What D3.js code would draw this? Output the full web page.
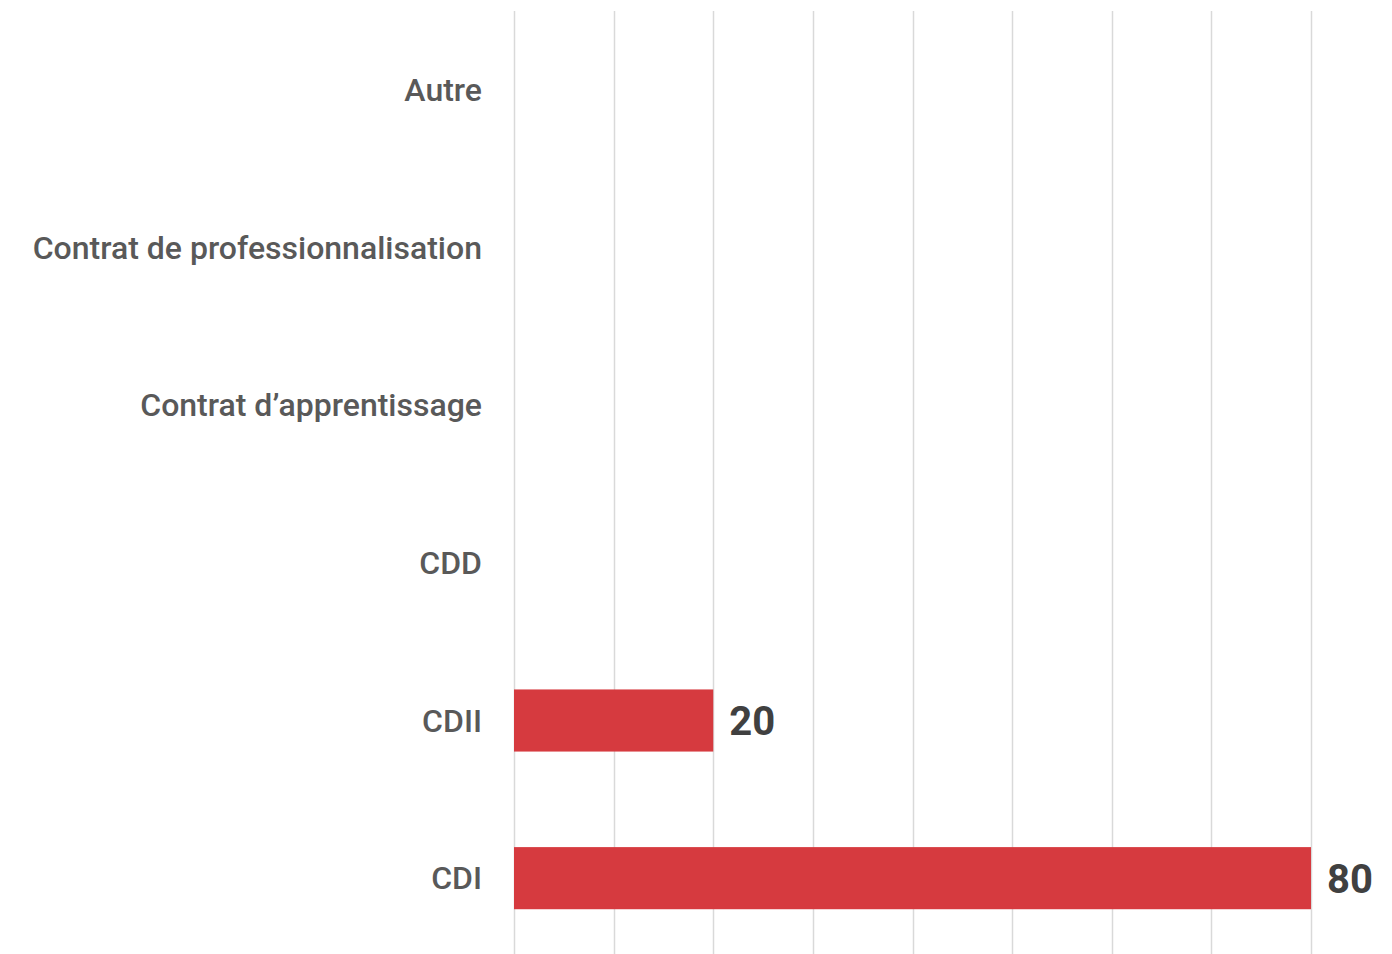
<!DOCTYPE html>
<html>
<head>
<meta charset="utf-8">
<script src="https://cdn.jsdelivr.net/npm/d3@7"></script>
<style>
  html, body { margin: 0; padding: 0; background: #fff; }
  svg { display: block; }
  .cat { font-family: Roboto, "Noto Sans", sans-serif; font-weight: 500; fill: #595959; }
  .val { font-family: Roboto, "Noto Sans", sans-serif; font-weight: 700; fill: #404040; }
</style>
</head>
<body>
<div id="chart"></div>
<script>
// categories listed top to bottom
var categories = ["Autre", "Contrat de professionnalisation", "Contrat d\u2019apprentissage", "CDD", "CDII", "CDI"];
var values = [0, 0, 0, 0, 20, 80];
var xTicks = [0, 10, 20, 30, 40, 50, 60, 70, 80];

var width = 1392, height = 954;
var margin = { top: 11, right: 81, bottom: 0, left: 514 };

var svg = d3.select("#chart")
  .append("svg")
  .attr("width", width)
  .attr("height", height);

var x = d3.scaleLinear().domain([0, 80]).range([margin.left, width - margin.right]);
var y = d3.scaleBand().domain(categories).range([margin.top, 957]).padding(0);

// vertical gridlines
svg.append("g")
  .selectAll("line")
  .data(xTicks)
  .enter()
  .append("line")
  .attr("x1", function(d) { return Math.round(x(d)) + 0.5; })
  .attr("x2", function(d) { return Math.round(x(d)) + 0.5; })
  .attr("y1", margin.top)
  .attr("y2", height)
  .attr("stroke", "#d9d9d9")
  .attr("stroke-width", 1.5);

var barH = y.bandwidth() * 0.394;

svg.append("g")
  .selectAll("rect")
  .data(categories)
  .enter()
  .append("rect")
  .attr("x", x(0))
  .attr("y", function(d) { return y(d) + y.bandwidth() / 2 - barH / 2; })
  .attr("width", function(d, i) { return x(values[i]) - x(0); })
  .attr("height", barH)
  .attr("fill", "#d63a3f");

// category labels
svg.append("g")
  .selectAll("text")
  .data(categories)
  .enter()
  .append("text")
  .attr("class", "cat")
  .attr("x", 482)
  .attr("y", function(d) { return y(d) + y.bandwidth() / 2; })
  .attr("dy", "0.35em")
  .attr("text-anchor", "end")
  .style("font-size", "32px")
  .text(function(d) { return d; });

// value labels (only non-zero)
svg.append("g")
  .selectAll("text")
  .data(categories.filter(function(d, i) { return values[i] > 0; }))
  .enter()
  .append("text")
  .attr("class", "val")
  .attr("x", function(d) { return x(values[categories.indexOf(d)]) + 16; })
  .attr("y", function(d) { return y(d) + y.bandwidth() / 2; })
  .attr("dy", "0.36em")
  .style("font-size", "40px")
  .text(function(d) { return values[categories.indexOf(d)]; });
</script>
</body>
</html>
